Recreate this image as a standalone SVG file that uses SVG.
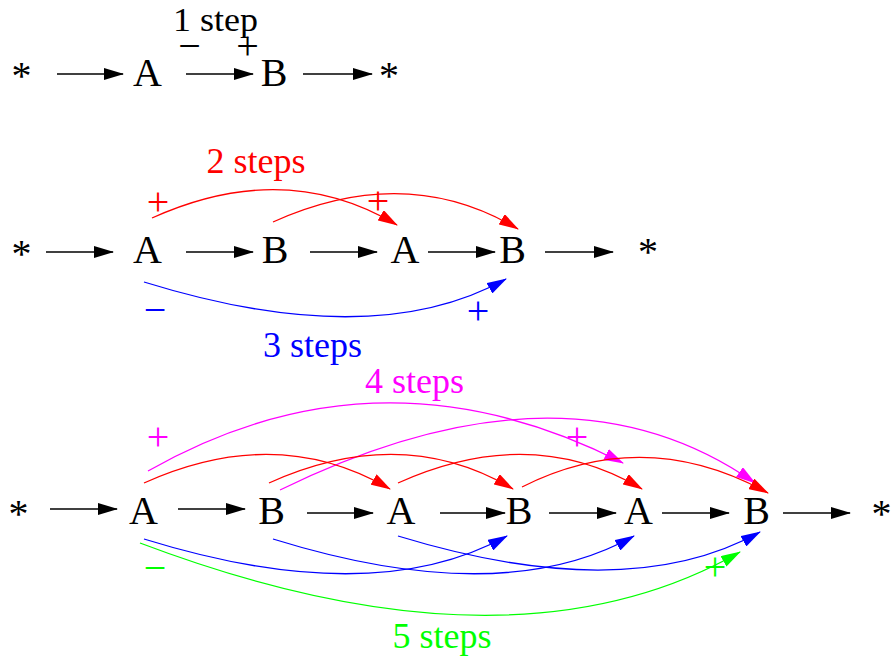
<svg xmlns="http://www.w3.org/2000/svg" width="892" height="659" viewBox="0 0 892 659">
<style>
text{font-family:"Liberation Serif","Times New Roman",serif;text-anchor:middle}
.n{font-size:40px;fill:#000}
.lbl{font-size:36px}
.sg{font-size:40px}
.k{stroke:#000;stroke-width:1.5;fill:none;marker-end:url(#ak)}
.r{stroke:#ff0000;stroke-width:1.3;fill:none;marker-end:url(#ar)}
.b{stroke:#0000ff;stroke-width:1.3;fill:none;marker-end:url(#ab)}
.m{stroke:#ff00ff;stroke-width:1.3;fill:none;marker-end:url(#am)}
.g{stroke:#00ff00;stroke-width:1.3;fill:none;marker-end:url(#ag)}
.tr{fill:#ff0000}.tb{fill:#0000ff}.tm{fill:#ff00ff}.tg{fill:#00ff00}.tk{fill:#000}
</style>
<defs>
<marker id="ak" viewBox="0 0 20 12" refX="19" refY="6" markerWidth="20" markerHeight="12" markerUnits="userSpaceOnUse" orient="auto"><path d="M0,0 L20,6 L0,12 z" fill="#000"/></marker>
<marker id="ar" viewBox="0 0 20 12" refX="19" refY="6" markerWidth="20" markerHeight="12" markerUnits="userSpaceOnUse" orient="auto"><path d="M0,0 L20,6 L0,12 z" fill="#ff0000"/></marker>
<marker id="ab" viewBox="0 0 20 12" refX="19" refY="6" markerWidth="20" markerHeight="12" markerUnits="userSpaceOnUse" orient="auto"><path d="M0,0 L20,6 L0,12 z" fill="#0000ff"/></marker>
<marker id="am" viewBox="0 0 20 12" refX="19" refY="6" markerWidth="20" markerHeight="12" markerUnits="userSpaceOnUse" orient="auto"><path d="M0,0 L20,6 L0,12 z" fill="#ff00ff"/></marker>
<marker id="ag" viewBox="0 0 20 12" refX="19" refY="6" markerWidth="20" markerHeight="12" markerUnits="userSpaceOnUse" orient="auto"><path d="M0,0 L20,6 L0,12 z" fill="#00ff00"/></marker>
</defs>
<rect width="892" height="659" fill="#fff"/>

<g id="connectors">
  <!-- row 1 -->
  <path class="k" d="M57,74 L123,74"/>
  <path class="k" d="M186,74 L253,74"/>
  <path class="k" d="M303,74 L372,74"/>
  <!-- row 2 -->
  <path class="k" d="M46,252 L113,252"/>
  <path class="k" d="M186,252 L253,252"/>
  <path class="k" d="M310,252 L377,252"/>
  <path class="k" d="M428,252 L495,252"/>
  <path class="k" d="M545,252 L613,252"/>
  <path class="r" d="M152,218 Q285,158 397,225"/>
  <path class="r" d="M273,222 Q406,162 518,229"/>
  <path class="b" d="M144,282 Q373,353 506,279"/>
  <!-- row 3 -->
  <path class="k" d="M50,509 L117,509"/>
  <path class="k" d="M178,509 L245,509"/>
  <path class="k" d="M307,513 L373,513"/>
  <path class="k" d="M440,513 L505,513"/>
  <path class="k" d="M549,513 L616,513"/>
  <path class="k" d="M662,513 L729,513"/>
  <path class="k" d="M783,513 L850,513"/>
  <path class="m" d="M148,471 Q380,339 623,463"/>
  <path class="m" d="M280,490 Q565,350 755,483"/>
  <path class="r" d="M144,483 Q277,423 390,489"/>
  <path class="r" d="M269,483 Q402,423 513,489"/>
  <path class="r" d="M398,483 Q531,423 642,489"/>
  <path class="r" d="M522,487 Q645,425 768,493"/>
  <path class="b" d="M144,539 Q373,610 507,536"/>
  <path class="b" d="M273,539 Q502,610 634,536"/>
  <path class="b" d="M398,536 Q627,606 760,532"/>
  <path class="g" d="M140,543 Q510,683 740,552"/>
</g>

<g id="row1">
  <g id="r1-start"><text class="n" x="21.5" y="89">*</text></g>
  <g id="r1-A"><text class="n" x="147.5" y="86">A</text></g>
  <g id="r1-B"><text class="n" x="274" y="86">B</text></g>
  <g id="r1-end"><text class="n" x="389" y="89">*</text></g>
</g>
<g id="row2">
  <g id="r2-start"><text class="n" x="21.5" y="267">*</text></g>
  <g id="r2-A1"><text class="n" x="147.5" y="263">A</text></g>
  <g id="r2-B1"><text class="n" x="275" y="263">B</text></g>
  <g id="r2-A2"><text class="n" x="405" y="263">A</text></g>
  <g id="r2-B2"><text class="n" x="512.5" y="263">B</text></g>
  <g id="r2-end"><text class="n" x="648" y="265">*</text></g>
</g>
<g id="row3">
  <g id="r3-start"><text class="n" x="18.5" y="527">*</text></g>
  <g id="r3-A1"><text class="n" x="143.5" y="524">A</text></g>
  <g id="r3-B1"><text class="n" x="271.5" y="524">B</text></g>
  <g id="r3-A2"><text class="n" x="401" y="524">A</text></g>
  <g id="r3-B2"><text class="n" x="519" y="524">B</text></g>
  <g id="r3-A3"><text class="n" x="638.5" y="524">A</text></g>
  <g id="r3-B3"><text class="n" x="756.5" y="524">B</text></g>
  <g id="r3-end"><text class="n" x="881.5" y="527">*</text></g>
</g>

<g id="labels">
  <text class="tk" style="font-size:34px" x="215.5" y="31" textLength="85" lengthAdjust="spacingAndGlyphs">1 step</text>
  <text class="lbl tr" x="256" y="173">2 steps</text>
  <text class="lbl tb" x="312.5" y="357">3 steps</text>
  <text class="lbl tm" x="414.5" y="393">4 steps</text>
  <text class="lbl tg" x="442" y="648">5 steps</text>
</g>
<g id="signs">
  <text class="sg tk" x="189.5" y="59">−</text>
  <text class="sg tk" x="247.5" y="59">+</text>
  <text class="sg tr" x="158" y="215">+</text>
  <text class="sg tr" x="378" y="214">+</text>
  <text class="sg tb" x="155" y="323">−</text>
  <text class="sg tb" x="478" y="324">+</text>
  <text class="sg tm" x="158" y="450">+</text>
  <text class="sg tm" x="577" y="450">+</text>
  <text class="sg tg" x="155" y="581">−</text>
  <text class="sg tg" x="715" y="580">+</text>
</g>
</svg>
